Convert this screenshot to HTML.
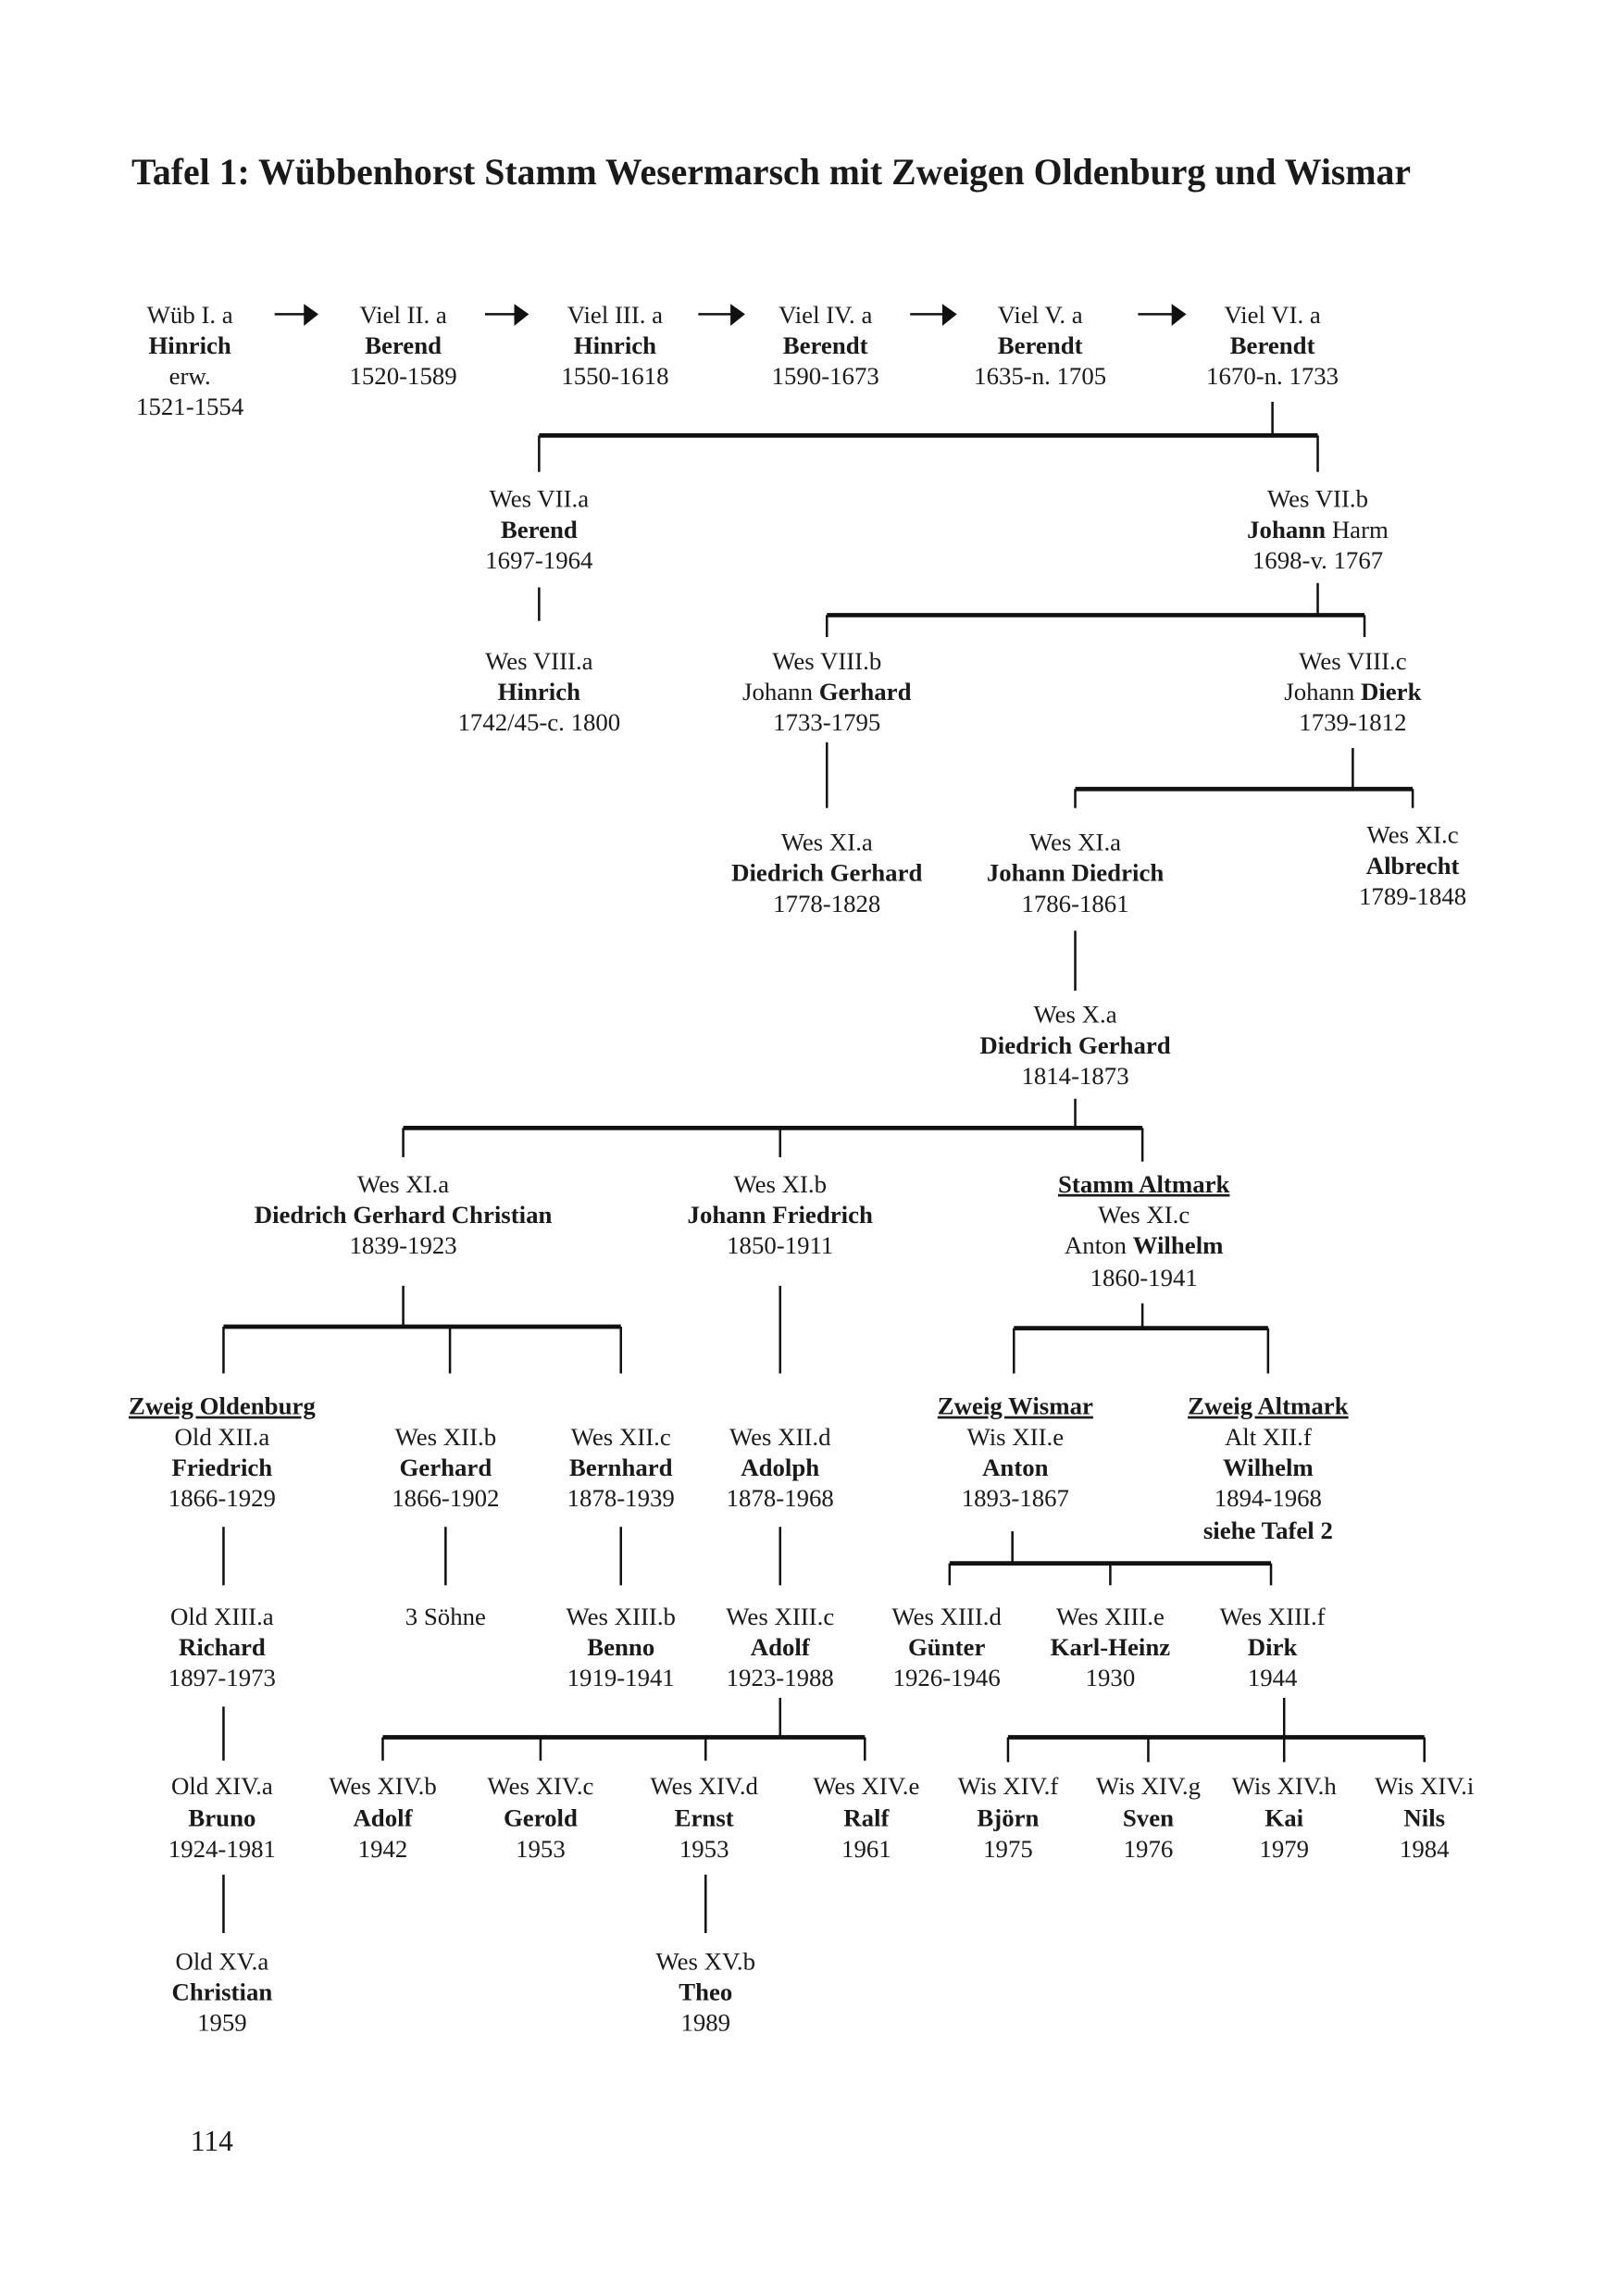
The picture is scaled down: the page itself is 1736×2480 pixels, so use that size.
<!DOCTYPE html>
<html><head><meta charset="utf-8"><style>
html,body{margin:0;padding:0;background:#fff}
svg{display:block}
text{font-family:"Liberation Serif",serif;font-size:17px;fill:#1a1a1a;text-anchor:middle}
.b{font-weight:bold}
.u{font-weight:bold;text-decoration:underline}
.t{font-size:25.2px;font-weight:bold;text-anchor:start}
line{stroke:#111}
.h{stroke-width:3}
.v{stroke-width:1.6}
</style></head><body>
<svg width="1736" height="2480" viewBox="0 0 1100 1571.4" xmlns="http://www.w3.org/2000/svg">
<text class="t" x="90" y="126">Tafel 1: Wübbenhorst Stamm Wesermarsch mit Zweigen Oldenburg und Wismar</text>

<g stroke="#111" stroke-width="1.6">
<line x1="188" y1="215" x2="210" y2="215"/><line x1="332" y1="215" x2="354" y2="215"/><line x1="478" y1="215" x2="502" y2="215"/><line x1="623" y1="215" x2="647" y2="215"/><line x1="779" y1="215" x2="804" y2="215"/>
</g>
<g fill="#111">
<polygon points="208,208 218,215 208,223"/><polygon points="352,208 362,215 352,223"/><polygon points="500,208 510,215 500,223"/><polygon points="645,208 655,215 645,223"/><polygon points="802,208 812,215 802,223"/>
</g>

<text x="130" y="221">Wüb I. a</text><text x="130" y="242" class="b">Hinrich</text><text x="130" y="263">erw.</text><text x="130" y="284">1521-1554</text>
<text x="276" y="221">Viel II. a</text><text x="276" y="242" class="b">Berend</text><text x="276" y="263">1520-1589</text>
<text x="421" y="221">Viel III. a</text><text x="421" y="242" class="b">Hinrich</text><text x="421" y="263">1550-1618</text>
<text x="565" y="221">Viel IV. a</text><text x="565" y="242" class="b">Berendt</text><text x="565" y="263">1590-1673</text>
<text x="712" y="221">Viel V. a</text><text x="712" y="242" class="b">Berendt</text><text x="712" y="263">1635-n. 1705</text>
<text x="871" y="221">Viel VI. a</text><text x="871" y="242" class="b">Berendt</text><text x="871" y="263">1670-n. 1733</text>

<line class="v" x1="871" y1="275" x2="871" y2="298"/>
<line class="h" x1="369" y1="298" x2="902" y2="298"/>
<line class="v" x1="369" y1="298" x2="369" y2="323"/><line class="v" x1="902" y1="298" x2="902" y2="323"/>

<text x="369" y="347">Wes VII.a</text><text x="369" y="368" class="b">Berend</text><text x="369" y="389">1697-1964</text>
<text x="902" y="347">Wes VII.b</text><text x="902" y="368"><tspan class="b">Johann</tspan> Harm</text><text x="902" y="389">1698-v. 1767</text>

<line class="v" x1="369" y1="402" x2="369" y2="425"/>
<line class="v" x1="902" y1="399" x2="902" y2="421"/>
<line class="h" x1="566" y1="421" x2="934" y2="421"/>
<line class="v" x1="566" y1="421" x2="566" y2="436"/><line class="v" x1="934" y1="421" x2="934" y2="436"/>

<text x="369" y="458">Wes VIII.a</text><text x="369" y="479" class="b">Hinrich</text><text x="369" y="500">1742/45-c. 1800</text>
<text x="566" y="458">Wes VIII.b</text><text x="566" y="479">Johann <tspan class="b">Gerhard</tspan></text><text x="566" y="500">1733-1795</text>
<text x="926" y="458">Wes VIII.c</text><text x="926" y="479">Johann <tspan class="b">Dierk</tspan></text><text x="926" y="500">1739-1812</text>

<line class="v" x1="566" y1="508" x2="566" y2="553"/>
<line class="v" x1="926" y1="512" x2="926" y2="540"/>
<line class="h" x1="736" y1="540" x2="967" y2="540"/>
<line class="v" x1="736" y1="540" x2="736" y2="553"/><line class="v" x1="967" y1="540" x2="967" y2="553"/>

<text x="566" y="582">Wes XI.a</text><text x="566" y="603" class="b">Diedrich Gerhard</text><text x="566" y="624">1778-1828</text>
<text x="736" y="582">Wes XI.a</text><text x="736" y="603" class="b">Johann Diedrich</text><text x="736" y="624">1786-1861</text>
<text x="967" y="577">Wes XI.c</text><text x="967" y="598" class="b">Albrecht</text><text x="967" y="619">1789-1848</text>

<line class="v" x1="736" y1="637" x2="736" y2="678"/>
<text x="736" y="700">Wes X.a</text><text x="736" y="721" class="b">Diedrich Gerhard</text><text x="736" y="742">1814-1873</text>

<line class="v" x1="736" y1="752" x2="736" y2="772"/>
<line class="h" x1="276" y1="772" x2="782" y2="772"/>
<line class="v" x1="276" y1="772" x2="276" y2="792"/><line class="v" x1="534" y1="772" x2="534" y2="792"/><line class="v" x1="782" y1="772" x2="782" y2="795"/>

<text x="276" y="816">Wes XI.a</text><text x="276" y="837" class="b">Diedrich Gerhard Christian</text><text x="276" y="858">1839-1923</text>
<text x="534" y="816">Wes XI.b</text><text x="534" y="837" class="b">Johann Friedrich</text><text x="534" y="858">1850-1911</text>
<text x="783" y="816" class="u">Stamm Altmark</text><text x="783" y="837">Wes XI.c</text><text x="783" y="858">Anton <tspan class="b">Wilhelm</tspan></text><text x="783" y="880">1860-1941</text>

<line class="v" x1="276" y1="880" x2="276" y2="908"/>
<line class="h" x1="153" y1="908" x2="425" y2="908"/>
<line class="v" x1="153" y1="908" x2="153" y2="940"/><line class="v" x1="308" y1="908" x2="308" y2="940"/><line class="v" x1="425" y1="908" x2="425" y2="940"/>
<line class="v" x1="534" y1="880" x2="534" y2="940"/>
<line class="v" x1="782" y1="892" x2="782" y2="909"/>
<line class="h" x1="694" y1="909" x2="868" y2="909"/>
<line class="v" x1="694" y1="909" x2="694" y2="940"/><line class="v" x1="868" y1="909" x2="868" y2="940"/>

<text x="152" y="968" class="u">Zweig Oldenburg</text><text x="152" y="989">Old XII.a</text><text x="152" y="1010" class="b">Friedrich</text><text x="152" y="1031">1866-1929</text>
<text x="305" y="989">Wes XII.b</text><text x="305" y="1010" class="b">Gerhard</text><text x="305" y="1031">1866-1902</text>
<text x="425" y="989">Wes XII.c</text><text x="425" y="1010" class="b">Bernhard</text><text x="425" y="1031">1878-1939</text>
<text x="534" y="989">Wes XII.d</text><text x="534" y="1010" class="b">Adolph</text><text x="534" y="1031">1878-1968</text>
<text x="695" y="968" class="u">Zweig Wismar</text><text x="695" y="989">Wis XII.e</text><text x="695" y="1010" class="b">Anton</text><text x="695" y="1031">1893-1867</text>
<text x="868" y="968" class="u">Zweig Altmark</text><text x="868" y="989">Alt XII.f</text><text x="868" y="1010" class="b">Wilhelm</text><text x="868" y="1031">1894-1968</text><text x="868" y="1053" class="b">siehe Tafel 2</text>

<line class="v" x1="153" y1="1045" x2="153" y2="1085"/><line class="v" x1="305" y1="1045" x2="305" y2="1085"/><line class="v" x1="425" y1="1045" x2="425" y2="1085"/><line class="v" x1="534" y1="1045" x2="534" y2="1085"/>
<line class="v" x1="693" y1="1048" x2="693" y2="1070"/>
<line class="h" x1="650" y1="1070" x2="870" y2="1070"/>
<line class="v" x1="650" y1="1070" x2="650" y2="1085"/><line class="v" x1="760" y1="1070" x2="760" y2="1085"/><line class="v" x1="870" y1="1070" x2="870" y2="1085"/>

<text x="152" y="1112">Old XIII.a</text><text x="152" y="1133" class="b">Richard</text><text x="152" y="1154">1897-1973</text>
<text x="305" y="1112">3 Söhne</text>
<text x="425" y="1112">Wes XIII.b</text><text x="425" y="1133" class="b">Benno</text><text x="425" y="1154">1919-1941</text>
<text x="534" y="1112">Wes XIII.c</text><text x="534" y="1133" class="b">Adolf</text><text x="534" y="1154">1923-1988</text>
<text x="648" y="1112">Wes XIII.d</text><text x="648" y="1133" class="b">Günter</text><text x="648" y="1154">1926-1946</text>
<text x="760" y="1112">Wes XIII.e</text><text x="760" y="1133" class="b">Karl-Heinz</text><text x="760" y="1154">1930</text>
<text x="871" y="1112">Wes XIII.f</text><text x="871" y="1133" class="b">Dirk</text><text x="871" y="1154">1944</text>

<line class="v" x1="153" y1="1168" x2="153" y2="1205"/>
<line class="v" x1="534" y1="1162" x2="534" y2="1189"/>
<line class="h" x1="262" y1="1189" x2="592" y2="1189"/>
<line class="v" x1="262" y1="1189" x2="262" y2="1205"/><line class="v" x1="370" y1="1189" x2="370" y2="1205"/><line class="v" x1="483" y1="1189" x2="483" y2="1205"/><line class="v" x1="592" y1="1189" x2="592" y2="1205"/>
<line class="v" x1="879" y1="1162" x2="879" y2="1189"/>
<line class="h" x1="690" y1="1189" x2="975" y2="1189"/>
<line class="v" x1="690" y1="1189" x2="690" y2="1206"/><line class="v" x1="786" y1="1189" x2="786" y2="1206"/><line class="v" x1="879" y1="1189" x2="879" y2="1206"/><line class="v" x1="975" y1="1189" x2="975" y2="1206"/>

<text x="152" y="1228">Old XIV.a</text><text x="152" y="1250" class="b">Bruno</text><text x="152" y="1271">1924-1981</text>
<text x="262" y="1228">Wes XIV.b</text><text x="262" y="1250" class="b">Adolf</text><text x="262" y="1271">1942</text>
<text x="370" y="1228">Wes XIV.c</text><text x="370" y="1250" class="b">Gerold</text><text x="370" y="1271">1953</text>
<text x="482" y="1228">Wes XIV.d</text><text x="482" y="1250" class="b">Ernst</text><text x="482" y="1271">1953</text>
<text x="593" y="1228">Wes XIV.e</text><text x="593" y="1250" class="b">Ralf</text><text x="593" y="1271">1961</text>
<text x="690" y="1228">Wis XIV.f</text><text x="690" y="1250" class="b">Björn</text><text x="690" y="1271">1975</text>
<text x="786" y="1228">Wis XIV.g</text><text x="786" y="1250" class="b">Sven</text><text x="786" y="1271">1976</text>
<text x="879" y="1228">Wis XIV.h</text><text x="879" y="1250" class="b">Kai</text><text x="879" y="1271">1979</text>
<text x="975" y="1228">Wis XIV.i</text><text x="975" y="1250" class="b">Nils</text><text x="975" y="1271">1984</text>

<line class="v" x1="153" y1="1283" x2="153" y2="1323"/>
<line class="v" x1="483" y1="1283" x2="483" y2="1323"/>

<text x="152" y="1348">Old XV.a</text><text x="152" y="1369" class="b">Christian</text><text x="152" y="1390">1959</text>
<text x="483" y="1348">Wes XV.b</text><text x="483" y="1369" class="b">Theo</text><text x="483" y="1390">1989</text>

<text x="145" y="1472" style="font-size:20px">114</text>
</svg>
</body></html>
